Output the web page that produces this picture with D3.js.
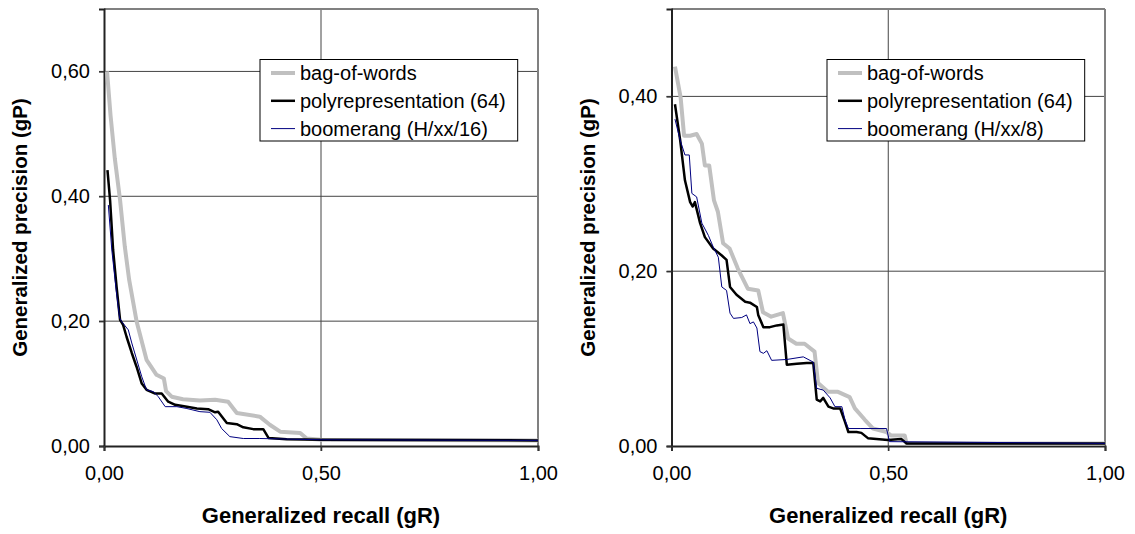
<!DOCTYPE html>
<html>
<head>
<meta charset="utf-8">
<script src="https://cdn.jsdelivr.net/npm/d3@7"></script>
<style>
  body { margin: 0; background: #fff; }
  svg { display: block; }
  text { font-family: Arial, "Liberation Sans", sans-serif; fill: #000; }
</style>
</head>
<body>
<svg id="chart" width="1135" height="534"></svg>
<script>
// Recall / precision points, [gR, gP]
const leftBagOfWords = [
  [0.007,0.600],[0.015,0.530],[0.025,0.460],[0.037,0.394],[0.048,0.319],[0.058,0.266],[0.075,0.200],
  [0.098,0.138],[0.121,0.114],[0.138,0.108],[0.143,0.088],[0.156,0.079],[0.182,0.075],
  [0.221,0.073],[0.256,0.074],[0.286,0.071],[0.306,0.053],[0.359,0.047],[0.382,0.034],
  [0.406,0.023],[0.452,0.021],[0.467,0.012],[0.500,0.010],[1.000,0.009]
];
const leftPolyrep = [
  [0.008,0.442],[0.014,0.394],[0.021,0.314],[0.029,0.255],[0.037,0.202],[0.044,0.194],
  [0.052,0.175],[0.064,0.149],[0.075,0.127],[0.087,0.100],[0.098,0.090],[0.118,0.084],
  [0.133,0.084],[0.148,0.071],[0.164,0.066],[0.191,0.063],[0.214,0.060],[0.240,0.059],
  [0.256,0.054],[0.263,0.055],[0.283,0.037],[0.306,0.035],[0.321,0.030],[0.344,0.027],
  [0.367,0.027],[0.379,0.013],[0.421,0.011],[0.500,0.010],[1.000,0.009]
];
const leftBoomerang = [
  [0.010,0.386],[0.018,0.314],[0.028,0.250],[0.036,0.205],[0.041,0.199],[0.056,0.186],
  [0.064,0.165],[0.087,0.111],[0.098,0.090],[0.114,0.087],[0.125,0.079],[0.141,0.063],
  [0.168,0.063],[0.191,0.060],[0.221,0.055],[0.244,0.054],[0.260,0.042],[0.271,0.028],
  [0.290,0.015],[0.321,0.012],[0.359,0.012],[0.500,0.010],[1.000,0.009]
];
const rightBagOfWords = [
  [0.008,0.434],[0.021,0.399],[0.029,0.355],[0.043,0.355],[0.058,0.357],[0.070,0.346],
  [0.077,0.321],[0.087,0.321],[0.098,0.281],[0.107,0.268],[0.119,0.232],[0.134,0.226],
  [0.153,0.203],[0.176,0.180],[0.200,0.178],[0.211,0.153],[0.230,0.148],[0.257,0.152],
  [0.269,0.123],[0.288,0.117],[0.307,0.117],[0.330,0.108],[0.338,0.072],[0.361,0.062],
  [0.384,0.062],[0.411,0.056],[0.423,0.043],[0.446,0.030],[0.465,0.020],[0.496,0.016],
  [0.507,0.012],[0.538,0.012],[0.542,0.003],[1.000,0.003]
];
const rightPolyrep = [
  [0.008,0.391],[0.020,0.350],[0.031,0.304],[0.043,0.279],[0.049,0.274],[0.054,0.279],
  [0.066,0.255],[0.077,0.239],[0.096,0.226],[0.116,0.218],[0.127,0.213],[0.135,0.182],
  [0.150,0.173],[0.170,0.165],[0.181,0.164],[0.197,0.159],[0.200,0.150],[0.212,0.136],
  [0.227,0.136],[0.243,0.138],[0.258,0.139],[0.266,0.093],[0.289,0.094],[0.312,0.095],
  [0.327,0.095],[0.335,0.053],[0.343,0.051],[0.350,0.055],[0.362,0.045],[0.373,0.043],
  [0.389,0.043],[0.400,0.028],[0.408,0.016],[0.427,0.016],[0.438,0.015],[0.453,0.009],
  [0.499,0.007],[0.530,0.008],[0.542,0.003],[1.000,0.003]
];
const rightBoomerang = [
  [0.008,0.374],[0.020,0.350],[0.031,0.333],[0.041,0.333],[0.047,0.289],[0.058,0.285],
  [0.070,0.255],[0.085,0.241],[0.096,0.228],[0.108,0.216],[0.116,0.182],[0.127,0.178],
  [0.135,0.152],[0.143,0.146],[0.162,0.147],[0.173,0.150],[0.181,0.140],[0.189,0.142],
  [0.197,0.135],[0.204,0.108],[0.212,0.106],[0.220,0.109],[0.231,0.098],[0.266,0.099],
  [0.304,0.102],[0.327,0.096],[0.335,0.066],[0.350,0.064],[0.366,0.055],[0.377,0.045],
  [0.393,0.045],[0.400,0.030],[0.408,0.020],[0.435,0.020],[0.496,0.020],[0.503,0.005],
  [1.000,0.003]
];

const leftLegend = ["bag-of-words", "polyrepresentation (64)", "boomerang (H/xx/16)"];
const rightLegend = ["bag-of-words", "polyrepresentation (64)", "boomerang (H/xx/8)"];
const leftYTicks = [0, 0.2, 0.4, 0.6];
const rightYTicks = [0, 0.2, 0.4];
const xTicks = [0, 0.5, 1];
const xTitle = "Generalized recall (gR)";
const yTitle = "Generalized precision (gP)";

const seriesColors = ["#c0c0c0", "#000000", "#000080"];
const seriesWidths = [4, 2.5, 1];

const svg = d3.select("#chart");
const fmt = d => d3.format(".2f")(d).replace(".", ",");

const panels = [
  { left: 104, right: 538, yMax: 0.7, yTicks: leftYTicks, legend: leftLegend,
    series: [leftBagOfWords, leftPolyrep, leftBoomerang], legendX: 260 },
  { left: 671.5, right: 1105, yMax: 0.5, yTicks: rightYTicks, legend: rightLegend,
    series: [rightBagOfWords, rightPolyrep, rightBoomerang], legendX: 827 }
];

const plotTop = 9, plotBottom = 446;

panels.forEach(p => {
  const g = svg.append("g");
  const x = d3.scaleLinear().domain([0, 1]).range([p.left, p.right]);
  const y = d3.scaleLinear().domain([0, p.yMax]).range([plotBottom, plotTop]);

  // horizontal gridlines
  g.append("g").selectAll("line").data(p.yTicks.filter(v => v > 0)).join("line")
    .attr("x1", x(0) - 5).attr("x2", x(1))
    .attr("y1", d => y(d)).attr("y2", d => y(d))
    .attr("stroke", "#444").attr("stroke-width", 1);
  // vertical gridline at 0,50
  g.append("g").selectAll("line").data(xTicks.filter(v => v > 0 && v < 1)).join("line")
    .attr("x1", d => x(d)).attr("x2", d => x(d))
    .attr("y1", y(p.yMax)).attr("y2", y(0) + 5)
    .attr("stroke", "#444").attr("stroke-width", 1);

  // frame: grey top/right, dark axes left/bottom
  g.append("line").attr("x1", x(0)).attr("x2", x(1)).attr("y1", y(p.yMax)).attr("y2", y(p.yMax))
    .attr("stroke", "#808080").attr("stroke-width", 2);
  g.append("line").attr("x1", x(1)).attr("x2", x(1)).attr("y1", y(p.yMax)).attr("y2", y(0))
    .attr("stroke", "#808080").attr("stroke-width", 2);

  // axes
  const yAxis = d3.axisLeft(y).tickValues(p.yTicks).tickFormat(fmt).tickSize(5).tickPadding(9);
  const xAxis = d3.axisBottom(x).tickValues(xTicks).tickFormat(fmt).tickSize(5).tickPadding(15);
  const ya = g.append("g").attr("transform", `translate(${x(0)},0)`).call(yAxis);
  const xa = g.append("g").attr("transform", `translate(0,${y(0)})`).call(xAxis);
  [ya, xa].forEach(a => {
    a.select(".domain").attr("stroke", "#222").attr("stroke-width", 2);
    a.selectAll(".tick line").attr("stroke", "#333").attr("stroke-width", 1.5);
    a.selectAll(".tick text").attr("font-size", 20).attr("font-family", "Arial, 'Liberation Sans', sans-serif").attr("fill", "#000");
  });

  // series lines
  const line = d3.line().x(d => x(d[0])).y(d => y(d[1]));
  p.series.forEach((s, i) => {
    g.append("path").datum(s).attr("d", line)
      .attr("fill", "none").attr("stroke", seriesColors[i]).attr("stroke-width", seriesWidths[i])
      .attr("stroke-linejoin", "round").attr("stroke-linecap", "butt");
  });

  // axis titles
  g.append("text").attr("x", (x(0) + x(1)) / 2).attr("y", 523)
    .attr("text-anchor", "middle").attr("font-size", 22).attr("font-weight", "bold").text(xTitle);
  g.append("text").attr("transform", `translate(${x(0) - 77},${(plotTop + plotBottom) / 2}) rotate(-90)`)
    .attr("text-anchor", "middle").attr("font-size", 20.5).attr("font-weight", "bold").text(yTitle);

  // legend
  const lg = g.append("g").attr("transform", `translate(${p.legendX},59.5)`);
  const box = lg.append("rect").attr("x", 0).attr("y", 0).attr("height", 81.5)
    .attr("fill", "#fff").attr("stroke", "#000").attr("stroke-width", 1);
  let maxW = 0;
  p.legend.forEach((name, i) => {
    const cy = 13.5 + i * 27.8;
    lg.append("line").attr("x1", 11).attr("x2", 35).attr("y1", cy).attr("y2", cy)
      .attr("stroke", seriesColors[i]).attr("stroke-width", seriesWidths[i]);
    const t = lg.append("text").attr("x", 40).attr("y", cy).attr("dy", "0.35em")
      .attr("font-size", 20).text(name);
    maxW = Math.max(maxW, t.node().getComputedTextLength());
  });
  box.attr("width", 40 + maxW + 12);
});
</script>
</body>
</html>
